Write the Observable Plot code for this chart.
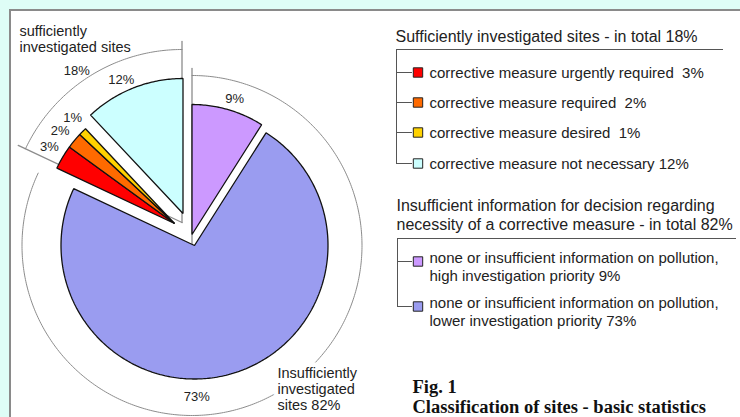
<!DOCTYPE html>
<html><head><meta charset="utf-8">
<script src="https://cdn.jsdelivr.net/npm/d3@7"></script>
<script src="https://cdn.jsdelivr.net/npm/@observablehq/plot@0.6"></script>
<style>
html,body{margin:0;padding:0;width:740px;height:417px;overflow:hidden;background:#defdf6;}
#panel{position:absolute;left:9px;top:9px;width:800px;height:500px;background:#fff;border-top:2px solid #8a8a8a;border-left:2px solid #8a8a8a;}
#chart{position:absolute;left:0;top:0;}
</style></head><body><div id="panel"></div><div id="chart"></div>
<script>
// ---- data ----
const categories = [
  "corrective measure urgently required",
  "corrective measure required",
  "corrective measure desired",
  "corrective measure not necessary",
  "none or insufficient information on pollution, high investigation priority",
  "none or insufficient information on pollution, lower investigation priority"
];
const values = [3, 2, 1, 12, 9, 73];
const groupOf = [0, 0, 0, 0, 1, 1];
const groupHeaders = [
  "Sufficiently investigated sites",
  "Insufficient information for decision regarding\nnecessity of a corrective measure"
];
const groupPieLabels = ["sufficiently\ninvestigated sites", "Insufficiently\ninvestigated\nsites"];
const pieOrder = [4, 5, 0, 1, 2, 3]; // clockwise from 12 o'clock
const palette = ["#ff0000", "#ff6a00", "#ffd200", "#ccffff", "#cc99ff", "#9a9cf0"];
const captionLines = ["Fig. 1", "Classification of sites - basic statistics"];

// ---- layout (pixels) ----
const C = [191.5, 245];          // centre of insufficient group outline
const C73 = [194, 245];          // 73% slice
const C9 = [191.5, 234];         // exploded 9% slice
const G = [181.5, 222];          // centre of sufficient group outline
const S12 = [182.5, 213];        // 12% slice
const S6 = [174, 223];           // 3/2/1% slices
const sliceCenter = [S6, S6, S6, S12, C9, C73];
const sliceRadius = [130, 130, 130, 135, 130, 133.5];
const labelCenter = [S6, S6, S6, S12, C, C];
const labelRadius = [147, 147, 147, 147, 153, 151];
const labelShiftDeg = [1, -0.7, 1.1, -3.2, 0, 0];

const groupTotals = [0, 1].map(g => d3.sum(values.filter((v, i) => groupOf[i] === g)));
const arcs = d3.pie().sort(null).startAngle(0).endAngle(2 * Math.PI)(pieOrder.map(i => values[i]));
const angle = {};
pieOrder.forEach((i, k) => angle[i] = [arcs[k].startAngle, arcs[k].endAngle]);
const gAngle = [
  [angle[0][0], angle[3][1]],
  [angle[4][0], angle[5][1]]
];

const pt = (c, r, a) => ({x: c[0] + r * Math.sin(a), y: c[1] - r * Math.cos(a)});
function arcPts(c, r, a0, a1) {
  const n = Math.max(2, Math.ceil(Math.abs(a1 - a0) / (Math.PI / 240)));
  return d3.range(n + 1).map(k => pt(c, r, a0 + (a1 - a0) * k / n));
}
const sector = (c, r, a0, a1) => [{x: c[0], y: c[1]}, ...arcPts(c, r, a0, a1)];

const marks = [];
// outer guide arcs
const gray = "#8c8c8c";
marks.push(Plot.line(arcPts(C, 170, gAngle[1][0], gAngle[1][1]), {x: "x", y: "y", stroke: gray, strokeWidth: 1}));
marks.push(Plot.line([pt(C, 0, 0), pt(C, 177, 0)], {x: "x", y: "y", stroke: gray, strokeWidth: 1.3}));
marks.push(Plot.line(arcPts(G, 173, gAngle[0][0], gAngle[0][1]), {x: "x", y: "y", stroke: gray, strokeWidth: 1}));
marks.push(Plot.line([pt(G, 0, 0), pt(G, 181, 0)], {x: "x", y: "y", stroke: gray, strokeWidth: 1.3}));
marks.push(Plot.line([pt(G, 0, gAngle[0][0]), pt(G, 181, gAngle[0][0])], {x: "x", y: "y", stroke: gray, strokeWidth: 1.3}));

// slices
[5, 4, 3, 0, 1, 2].forEach(i => {
  marks.push(Plot.line(sector(sliceCenter[i], sliceRadius[i], angle[i][0], angle[i][1]),
    {x: "x", y: "y", fill: palette[i], stroke: "#111", strokeWidth: 1.3, strokeLinejoin: "miter", curve: "linear-closed"}));
});

// slice labels
const pieLabels = categories.map((c, i) => {
  let a = (angle[i][0] + angle[i][1]) / 2 + labelShiftDeg[i] * Math.PI / 180;
  if (i === 5) a = Math.PI * 0.99;
  const p = pt(labelCenter[i], labelRadius[i], a);
  return {...p, text: `${values[i]}%`};
});
marks.push(Plot.text(pieLabels, {x: "x", y: "y", text: "text", fontSize: 13, fill: "#222"}));

// group labels
const gMid = (gAngle[0][0] + gAngle[0][1]) / 2;
const g18 = pt(G, 185, gMid - 0.04);
marks.push(Plot.text([{...g18, text: `${groupTotals[0]}%`}], {x: "x", y: "y", text: "text", fontSize: 13, fill: "#222"}));
marks.push(Plot.text([{x: 19, y: 38.5, text: groupPieLabels[0]}], {x: "x", y: "y", text: "text", fontSize: 14.5, textAnchor: "start", lineHeight: 1.05, fill: "#222"}));
const insLabel = [{x: 277, y: 388, text: `${groupPieLabels[1]} ${groupTotals[1]}%`}];
marks.push(Plot.text(insLabel, {x: "x", y: "y", text: "text", fontSize: 14.5, textAnchor: "start", lineHeight: 1.1, fill: "white", stroke: "white", strokeWidth: 9}));
marks.push(Plot.text(insLabel, {x: "x", y: "y", text: "text", fontSize: 14.5, textAnchor: "start", lineHeight: 1.1, fill: "#222"}));

// legend
const legX = [396, 397], legTop = [49, 238], legHeadY = [36, 214];
const itemY = [72, 102, 132, 163, 261, 306];
const legendItems = categories.map((c, i) => {
  const gap = values[i] < 10 && groupOf[i] === 0 ? "\u00a0 " : " ";
  const text = groupOf[i] === 1 ? `${c.replace(", ", ",\n")} ${values[i]}%` : `${c}${gap}${values[i]}%`;
  return {i, g: groupOf[i], y: itemY[i], text};
});
[0, 1].forEach(g => {
  const items = legendItems.filter(d => d.g === g);
  const last = items[items.length - 1].y;
  marks.push(Plot.ruleY([legTop[g]], {x1: legX[g], x2: g === 0 ? 723 : 736, stroke: "#555", strokeWidth: 1}));
  marks.push(Plot.ruleX([legX[g]], {y1: legTop[g], y2: last, stroke: "#555", strokeWidth: 1}));
  marks.push(Plot.ruleY(items, {y: "y", x1: legX[g], x2: 412, stroke: "#555", strokeWidth: 1}));
  marks.push(Plot.text([{text: `${groupHeaders[g]} - in total ${groupTotals[g]}%`}], {x: legX[g] - 1, y: legHeadY[g], text: "text", fontSize: 16, textAnchor: "start", lineHeight: 1.15, fill: "#222"}));
});
marks.push(Plot.dot(legendItems, {x: 417.5, y: "y", symbol: "square", r: 5.3, fill: d => palette[d.i], stroke: "#222", strokeWidth: 1}));
marks.push(Plot.text(legendItems, {x: 429, y: d => d.g ? d.y + 5 : d.y, text: "text", fontSize: 15, textAnchor: "start", lineHeight: 1.2, fill: "#222"}));

// caption
marks.push(Plot.text([captionLines.join("\n")], {x: 412, y: 396.5, text: d => d, fontSize: 18.5, fontWeight: "bold", fontFamily: "'Liberation Serif', 'Times New Roman', serif", textAnchor: "start", lineHeight: 1.07, fill: "#111"}));

const chart = Plot.plot({
  width: 740, height: 417,
  margin: 0,
  x: {domain: [0, 740], range: [0, 740], axis: null},
  y: {domain: [0, 417], range: [0, 417], axis: null},
  style: {background: "transparent", fontFamily: "'Liberation Sans', Arial, sans-serif", overflow: "visible"},
  marks
});
document.getElementById("chart").append(chart);
</script></body></html>
